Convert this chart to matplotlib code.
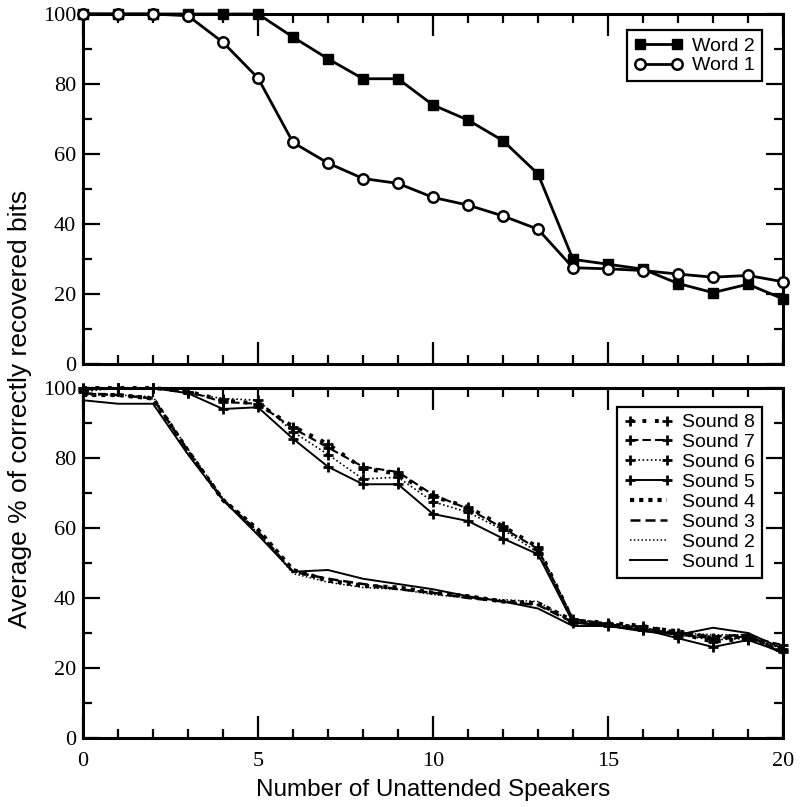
import matplotlib
matplotlib.use("Agg")
import matplotlib.pyplot as plt
from matplotlib.ticker import MultipleLocator

speakers = list(range(21))

# top panel
word2 = [100, 100, 100, 100, 100, 100, 93.4, 87.2, 81.5, 81.5, 74, 69.7,
         63.8, 54.3, 29.9, 28.5, 27.1, 23, 20.4, 22.8, 18.6]
word1 = [100, 100, 100, 99.5, 91.9, 81.7, 63.3, 57.4, 53, 51.6, 47.6, 45.4,
         42.3, 38.5, 27.5, 27.2, 26.7, 25.7, 24.8, 25.3, 23.5]

# bottom panel
sound1 = [96.5, 95.5, 95.5, 81, 68, 58, 47.5, 48, 45.5, 44, 42.5, 40.5,
          39, 37, 32, 32, 30.5, 29.5, 31.5, 30, 25.5]
sound2 = [98, 98, 97.5, 82.5, 68.5, 58.5, 47, 44.5, 43, 42.5, 41, 40,
          39.5, 39, 33, 32, 30.5, 30, 29.5, 29.5, 24.5]
sound3 = [98.5, 98, 97, 82, 68, 59, 47.5, 45.5, 44, 42.5, 41.5, 40,
          39, 38, 33, 32.5, 31, 30, 29, 29.5, 24]
sound4 = [98, 98, 97, 82, 68, 59.5, 48, 45, 43.5, 43, 41.5, 40.5,
          39, 38.5, 33.5, 32.5, 31.5, 30.5, 28.5, 29, 24.5]
sound5 = [99.5, 100, 100, 98.5, 94, 94.5, 85.5, 77.5, 72.5, 72.5, 64, 62,
          57, 52.5, 33, 32, 31, 28.5, 26, 28, 24.5]
sound6 = [99, 100, 100, 98.5, 97, 96.5, 87.5, 81, 74, 74.5, 67.5, 64.5,
          59.5, 53, 33.5, 32.5, 31, 29.5, 28, 28.5, 25.5]
sound7 = [100, 100, 100, 99, 96, 95.5, 88.5, 83, 77.5, 76, 69.5, 65.5,
          60, 54, 34, 32.5, 31.5, 29.5, 28.5, 29, 26.5]
sound8 = [100, 100, 100, 99, 96.5, 95.5, 89, 84, 77, 75.5, 69, 66,
          60.5, 54.5, 33.5, 33, 32, 30, 27.5, 28.5, 25]

fig = plt.figure(figsize=(8.02, 8.07), dpi=100)
ax1 = fig.add_axes([83 / 802, 1 - 364 / 807, 700 / 802, 350 / 807])
ax2 = fig.add_axes([83 / 802, 1 - 738 / 807, 700 / 802, 350 / 807])

ax1.plot(speakers, word2, color="black", lw=2, marker="s", ms=7.5,
         clip_on=False, zorder=3, label="Word 2")
ax1.plot(speakers, word1, color="black", lw=2, marker="o", ms=7.5, mfc="white",
         mew=1.8, clip_on=False, zorder=3, label="Word 1")

styles = [
    ("Sound 1", sound1, "-", 1.4, None),
    ("Sound 2", sound2, (0, (1, 1.5)), 1.1, None),
    ("Sound 3", sound3, (0, (4, 2)), 1.8, None),
    ("Sound 4", sound4, (0, (1, 1.2)), 3.0, None),
    ("Sound 5", sound5, "-", 1.4, "+"),
    ("Sound 6", sound6, (0, (1, 1.5)), 1.2, "+"),
    ("Sound 7", sound7, (0, (4, 2)), 1.5, "+"),
    ("Sound 8", sound8, (0, (1, 2.2)), 2.8, "+"),
]
handles = []
for name, vals, ls, lw, mk in styles:
    h, = ax2.plot(speakers, vals, color="black", ls=ls, lw=lw, marker=mk,
                  ms=7.5, mew=2, clip_on=False, label=name,
                  dash_capstyle="butt")
    handles.append(h)

for ax in (ax1, ax2):
    ax.set_xlim(0, 20)
    ax.set_ylim(0, 100)
    ax.xaxis.set_major_locator(MultipleLocator(5))
    ax.xaxis.set_minor_locator(MultipleLocator(1))
    ax.yaxis.set_major_locator(MultipleLocator(20))
    ax.yaxis.set_minor_locator(MultipleLocator(10))
    ax.tick_params(which="both", direction="in", top=True, right=True, width=1.6)
    ax.tick_params(axis="x", which="major", length=16, pad=10)
    ax.tick_params(axis="y", which="major", length=12, pad=5)
    ax.tick_params(which="minor", length=6.5)
    for s in ax.spines.values():
        s.set_linewidth(2.2)
    for lab in ax.get_xticklabels() + ax.get_yticklabels():
        lab.set_fontfamily("Liberation Serif")
        lab.set_fontsize(16)

ax1.tick_params(axis="x", labelbottom=False)

leg1 = ax1.legend(loc="upper right", bbox_to_anchor=(0.97, 0.954),
                  borderaxespad=0,
                  prop={"family": "Liberation Sans", "size": 14},
                  handlelength=2.5, handletextpad=0.5, labelspacing=0.12,
                  borderpad=0.35, fancybox=False, framealpha=1, numpoints=2)
leg1.get_frame().set_edgecolor("black")
leg1.get_frame().set_linewidth(1.6)

leg2 = ax2.legend(handles=handles[::-1], loc="upper right",
                  bbox_to_anchor=(0.97, 0.946), borderaxespad=0,
                  prop={"family": "Liberation Sans", "size": 14},
                  handlelength=2.5, handletextpad=0.5, labelspacing=0.12,
                  borderpad=0.35, fancybox=False, framealpha=1, numpoints=2)
leg2.get_frame().set_edgecolor("black")
leg2.get_frame().set_linewidth(1.6)

ax2.set_xlabel("Number of Unattended Speakers", family="Liberation Sans",
               fontsize=17.5, labelpad=6)
fig.text(20 / 802, 1 - 409 / 807, "Average % of correctly recovered bits",
         rotation=90, ha="center", va="center", family="Liberation Sans",
         fontsize=19)

fig.savefig("out.png", dpi=100)
